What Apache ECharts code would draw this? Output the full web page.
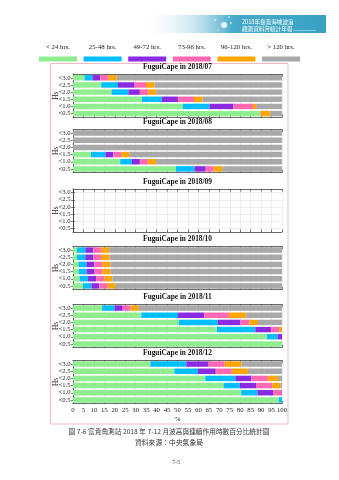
<!DOCTYPE html>
<html><head><meta charset="utf-8">
<script src="https://cdn.jsdelivr.net/npm/echarts@6/dist/echarts.min.js"></script>
<style>html,body{margin:0;padding:0;background:#fff}#c{width:339px;height:480px}</style>
</head><body><div id="c"></div>
<script>
// ---------- data ----------
const hsCategories = ['<3.0', '<2.5', '<2.0', '<1.5', '<1.0', '<0.5'];
const durationClasses = ['< 24 hrs.', '25-48 hrs.', '49-72 hrs.', '73-96 hrs.', '96-120 hrs.', '> 120 hrs.'];
const classColors = ['#90ee90', '#00bfff', '#8a2be2', '#ff69b4', '#ffa500', '#a9a9a9'];
const panelTitles = ['FuguiCape in 2018/07', 'FuguiCape in 2018/08', 'FuguiCape in 2018/09',
                     'FuguiCape in 2018/10', 'FuguiCape in 2018/11', 'FuguiCape in 2018/12'];
const yAxisTitle = 'Hs';
const xAxisTitle = '%';
// rows follow hsCategories, columns follow durationClasses (percent)
const jul = [
  [5.5, 3.8, 3.8, 3.8, 4.0, 79.1],
  [13.5, 8.0, 8.0, 5.5, 4.0, 61.0],
  [18.5, 8.0, 5.5, 4.0, 4.0, 60.0],
  [33.0, 9.5, 7.7, 7.7, 4.1, 38.0],
  [52.5, 12.8, 11.5, 9.3, 1.5, 12.4],
  [89.5, 0, 0, 0.3, 4.5, 5.7]
];
const aug = [
  [0, 0, 0, 0, 0, 100],
  [0, 0, 0, 0, 0, 100],
  [0, 0, 0, 0, 0, 100],
  [8.6, 6.9, 3.8, 3.8, 3.8, 73.1],
  [22.6, 5.6, 3.8, 3.8, 4.0, 60.2],
  [49.3, 8.8, 5.4, 3.8, 4.1, 28.6]
];
const sep = [
  [0, 0, 0, 0, 0, 0],
  [0, 0, 0, 0, 0, 0],
  [0, 0, 0, 0, 0, 0],
  [0, 0, 0, 0, 0, 0],
  [0, 0, 0, 0, 0, 0],
  [0, 0, 0, 0, 0, 0]
];
const oct = [
  [1.9, 4.0, 3.8, 3.8, 3.8, 82.7],
  [1.8, 4.1, 3.8, 3.8, 4.0, 82.5],
  [2.6, 3.8, 3.8, 3.8, 3.8, 82.2],
  [2.7, 3.8, 3.8, 3.8, 3.8, 82.1],
  [3.2, 4.0, 4.0, 3.8, 3.8, 81.2],
  [4.8, 4.0, 3.8, 3.8, 4.0, 79.6]
];
const nov = [
  [13.9, 5.9, 4.0, 3.7, 4.0, 68.5],
  [32.7, 17.5, 12.6, 11.8, 8.3, 17.1],
  [50.6, 18.7, 10.8, 4.3, 4.1, 11.5],
  [68.9, 18.3, 7.5, 4.1, 1.2, 0],
  [92.8, 5.1, 2.1, 0, 0, 0],
  [100, 0, 0, 0, 0, 0]
];
const dec = [
  [37.0, 17.2, 10.7, 7.7, 8.0, 19.4],
  [48.5, 11.3, 8.5, 7.7, 7.7, 16.3],
  [63.3, 14.4, 7.7, 7.8, 4.8, 2.0],
  [72.1, 7.7, 7.8, 7.7, 4.0, 0.7],
  [80.5, 7.8, 7.7, 4.0, 0, 0],
  [98.4, 1.6, 0, 0, 0, 0]
];
const monthData = [jul, aug, sep, oct, nov, dec];
const xMin = 0, xMax = 100, xStep = 5;

// ---------- layout ----------
const SERIF = "'Liberation Serif', 'Times New Roman', serif";
const CJK = "'Noto Sans CJK TC', 'Noto Sans CJK SC', sans-serif";
const gridLeft = 73, gridWidth = 209, gridHeight = 43;
const gridTops = [74.2, 129.5, 189, 246.5, 304.5, 360.5];
const frameColor = '#444';

const grids = [], xAxes = [], yAxes = [], series = [], graphics = [];
gridTops.forEach((top, p) => {
  grids.push({left: gridLeft, top: top, width: gridWidth, height: gridHeight,
              containLabel: false, outerBoundsMode: 'none'});
  const last = p === gridTops.length - 1;
  xAxes.push({
    type: 'value', gridIndex: p, min: xMin, max: xMax, interval: xStep, position: 'bottom',
    axisLine: {show: true, lineStyle: {color: frameColor, width: 0.8}},
    axisTick: {show: true, inside: true, length: 2.5, lineStyle: {color: frameColor, width: 0.7}},
    axisLabel: {show: last, fontSize: 6.8, fontFamily: SERIF, color: '#222', margin: 3.5},
    splitLine: {show: true, lineStyle: {color: '#e2e2e2', width: 0.6}},
    name: last ? xAxisTitle : '', nameLocation: 'middle', nameGap: 12.5,
    nameTextStyle: {fontSize: 6.8, fontFamily: SERIF, color: '#222'}
  });
  xAxes.push({
    type: 'value', gridIndex: p, min: xMin, max: xMax, interval: xStep, position: 'top',
    axisLine: {show: true, lineStyle: {color: frameColor, width: 0.8}},
    axisTick: {show: true, inside: true, length: 2.5, lineStyle: {color: frameColor, width: 0.7}},
    axisLabel: {show: false}, splitLine: {show: false}
  });
  yAxes.push({
    type: 'category', gridIndex: p, data: hsCategories, inverse: true, position: 'left',
    axisLine: {show: true, lineStyle: {color: frameColor, width: 0.8}},
    axisTick: {show: true, inside: true, alignWithLabel: true, interval: 0, length: 2, lineStyle: {color: frameColor, width: 0.7}},
    axisLabel: {interval: 0, fontSize: 6.6, fontFamily: SERIF, color: '#222', margin: 2.5},
    splitLine: {show: false}
  });
  yAxes.push({
    type: 'category', gridIndex: p, data: hsCategories, inverse: true, position: 'right',
    axisLine: {show: true, lineStyle: {color: frameColor, width: 0.8}},
    axisTick: {show: true, inside: true, alignWithLabel: true, interval: 0, length: 2, lineStyle: {color: frameColor, width: 0.7}},
    axisLabel: {show: false}, splitLine: {show: false}
  });
  // horizontal grid lines at each Hs class (kept beneath the bars)
  series.push({
    type: 'line', xAxisIndex: p * 2, yAxisIndex: p * 2, data: [], silent: true, z: 0,
    markLine: {z: 0, symbol: 'none', silent: true, animation: false, label: {show: false},
               lineStyle: {color: '#e2e2e2', width: 0.6, type: 'solid'},
               data: hsCategories.map(c => ({yAxis: c}))}
  });
  durationClasses.forEach((name, k) => {
    series.push({
      type: 'bar', name: name, xAxisIndex: p * 2, yAxisIndex: p * 2, stack: 'panel' + p,
      data: monthData[p].map(row => row[k]), barCategoryGap: '24%', z: 2, silent: true,
      itemStyle: {color: classColors[k]}
    });
  });
  graphics.push({type: 'text', x: gridLeft + gridWidth / 2, y: top - 7.3, silent: true,
    style: {text: panelTitles[p], fontSize: 7.4, fontWeight: 'bold', fontFamily: SERIF,
            fill: '#111', textAlign: 'center', textVerticalAlign: 'middle'}});
  graphics.push({type: 'text', x: 56.5, y: top + gridHeight / 2, rotation: Math.PI / 2, silent: true,
    style: {text: yAxisTitle, fontSize: 7.4, fontFamily: SERIF, fill: '#222',
            textAlign: 'center', textVerticalAlign: 'middle'}});
});

// legend (drawn from the class names and colours)
durationClasses.forEach((name, k) => {
  const cx = 58 + k * 44.6;
  graphics.push({type: 'text', x: cx, y: 47.5, silent: true,
    style: {text: name, fontSize: 6.8, fontFamily: SERIF, fill: '#222', textAlign: 'center', textVerticalAlign: 'middle'}});
  graphics.push({type: 'rect', silent: true, shape: {x: cx - 19, y: 56.5, width: 38, height: 5},
    style: {fill: classColors[k]}});
});

// pink outer frame
graphics.push({type: 'rect', silent: true, z: -1, shape: {x: 50.5, y: 63.5, width: 237.5, height: 360.5},
  style: {fill: 'none', stroke: '#f3b9c1', lineWidth: 1}});

// header banner
graphics.push({type: 'rect', silent: true, shape: {x: 140, y: 15, width: 186, height: 18},
  style: {fill: new echarts.graphic.LinearGradient(0, 0, 1, 0, [
    {offset: 0, color: 'rgba(255,255,255,0)'},
    {offset: 0.3, color: 'rgba(150,205,225,0.55)'},
    {offset: 0.5, color: '#45a9c9'},
    {offset: 1, color: '#38a2c3'}])}});
[[215, 20, 1.3], [224, 25, 3.2], [231, 23, 1], [218, 30, 1], [229, 17, 1]].forEach(c => {
  graphics.push({type: 'circle', silent: true, shape: {cx: c[0], cy: c[1], r: c[2]},
    style: {fill: '#eaf6fa', stroke: '#7cc3da', lineWidth: 0.5}});
});
graphics.push({type: 'text', x: 242, y: 21.5, silent: true,
  style: {text: '2018年臺灣海域波浪', fontSize: 5.6, fontFamily: CJK, fill: '#fff', textVerticalAlign: 'middle'}});
graphics.push({type: 'text', x: 242, y: 28.5, silent: true,
  style: {text: '觀測資料月統計年報', fontSize: 5.6, fontFamily: CJK, fill: '#fff', textVerticalAlign: 'middle'}});
graphics.push({type: 'line', silent: true, shape: {x1: 293, y1: 30.5, x2: 316, y2: 30.5},
  style: {stroke: '#dff1f7', lineWidth: 0.5}});

// caption
graphics.push({type: 'text', x: 169, y: 431, silent: true,
  style: {text: '圖 7-6 富貴角測站 2018 年 7-12 月波高與連續作用時數百分比統計圖', fontSize: 6.7,
          fontFamily: CJK, fill: '#333', textAlign: 'center', textVerticalAlign: 'middle'}});
graphics.push({type: 'text', x: 169, y: 442.5, silent: true,
  style: {text: '資料來源：中央氣象局', fontSize: 6.8, fontFamily: CJK, fill: '#333',
          textAlign: 'center', textVerticalAlign: 'middle'}});
graphics.push({type: 'text', x: 176, y: 462.5, silent: true,
  style: {text: '7-5', fontSize: 6.2, fontFamily: SERIF, fill: '#444', textAlign: 'center', textVerticalAlign: 'middle'}});

const chart = echarts.init(document.getElementById('c'), null, {renderer: 'canvas'});
chart.setOption({
  animation: false,
  backgroundColor: '#fff',
  grid: grids, xAxis: xAxes, yAxis: yAxes, series: series,
  graphic: {elements: graphics}
});
</script></body></html>
